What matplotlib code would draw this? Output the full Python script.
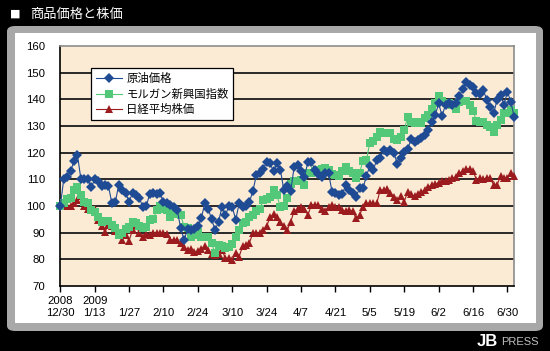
import matplotlib
matplotlib.use("Agg")
import matplotlib.pyplot as plt
from matplotlib.patches import FancyBboxPatch, Rectangle
from matplotlib.lines import Line2D

plt.rcParams['font.family'] = ['Noto Sans CJK JP', 'DejaVu Sans']

title = "商品価格と株価"
series_names = ["原油価格", "モルガン新興国指数", "日経平均株価"]

oil = [100, 110, 111, 113, 117, 119, 110, 110, 110, 107, 110, 109.5, 107.5, 108, 107.5, 101,
       101.5, 108, 106, 105, 101.5, 105, 104, 103, 99.5, 100, 104.5, 105, 104.5, 104.8, 101.5,
       101, 100.5, 99.5, 98.5, 91.6, 87.3, 91.3, 91, 91.5, 92.5, 95.4, 101, 99, 95, 91, 94,
       99.7, 96.5, 100, 99.7, 94.8, 101, 99.5, 100, 101.6, 105.6, 111.6, 112.5, 114, 116.6,
       116, 113, 116, 113.5, 106, 107.5, 105.6, 114.8, 115.5, 113.2, 111, 116.6, 116.6, 113.5,
       112, 111, 112.5, 112.3, 105.4, 104.8, 104.1, 104.5, 107.9, 106, 104.8, 103.5, 106.6,
       106.6, 111.3, 115, 113.5, 117.3, 118, 121, 120.4, 121, 120, 115.6, 118, 120.4, 121.3,
       125, 124, 124.8, 125.5, 126.6, 128.5, 131.6, 134, 138.5, 133.8, 138, 138.5, 138, 138.5,
       141.3, 143.8, 146.6, 145.5, 144.5, 142.3, 142, 143.5, 139.8, 137, 134.8, 139.8, 141.5,
       138, 142.8, 139, 133.2]

emerging = [100, 101, 102.5, 103, 106, 107.2, 104, 101.6, 101, 98.5, 97.9, 96, 94.1, 94.5,
            94.3, 93, 91.6, 89.1, 90, 91.3, 92, 94.1, 93.5, 92.5, 91.6, 92, 94.8, 95, 98.5,
            100.1, 99, 98.5, 96, 98.2, 97, 96.6, 92.2, 91.7, 88.5, 89, 90.4, 88.5, 88.5, 88.5,
            86, 82.2, 85.3, 85, 84.2, 84.5, 85.8, 88.5, 91, 93.5, 94, 96, 96.5, 98.2, 99, 102.2,
            102.5, 103.2, 106, 104, 99.5, 99.9, 102.9, 108.3, 109.2, 109.5, 109.8, 107.9, 112.3,
            112.5, 113, 113.5, 114, 114.4, 113.5, 112, 111.6, 111.2, 113.2, 114.6, 113, 112.3,
            110.4, 112.3, 117, 117.2, 123.8, 124.5, 126, 127.9, 127.5, 127.5, 127.3, 125, 124.8,
            126, 128.5, 133.5, 131.5, 131.2, 131.5, 131, 132.9, 134, 136.3, 138.5, 141.3, 139.5,
            138.5, 138.7, 138, 136.3, 139.1, 139.3, 139.5, 138, 135.6, 132, 131.5, 131.5, 130.5,
            129.8, 127.9, 130.5, 132.3, 135, 135, 136, 135]

nikkei = [100, 100, 100, 100, 101, 102.2, 103.8, 100, 99, 99.5, 99, 94.8, 92.5, 90.4, 92.9,
          92.5, 90.8, 89.5, 87.3, 89, 87, 91, 92.9, 89.8, 88.5, 89.5, 89.2, 89.8, 89.8, 89.8,
          89.8, 89.5, 87.3, 87.3, 87.3, 86, 84.8, 83.5, 84, 82.9, 83, 84, 85, 83.5, 82, 81.6,
          82, 83.5, 80.4, 80.5, 79.8, 82.3, 81, 85, 85.5, 86.3, 89.8, 89.8, 89.8, 91, 92.5,
          95.8, 97, 95.8, 94, 92.5, 91, 94.1, 98.2, 98.7, 99.5, 99, 96.6, 100.4, 100.5, 100.4,
          99, 98.2, 99.5, 100.4, 99.7, 99.7, 98.5, 98, 98.5, 98, 95.4, 96.6, 99.5, 101, 101,
          101, 101, 106, 106, 106.2, 104.9, 103.5, 102.2, 103.6, 101.6, 105.4, 104.4, 103.6,
          104.5, 105.4, 106, 107.2, 107.8, 108.2, 108.7, 109.5, 109.5, 109.8, 110.5, 110.8,
          112.3, 113, 113.8, 114, 113.2, 109.8, 110.4, 110, 110.5, 110.4, 107.9, 107.9, 111.3,
          110.5, 110.4, 112.3, 111.3]

tick_labels = ["2008\n12/30", "2009\n1/13", "\n1/27", "\n2/10", "\n2/24", "\n3/10", "\n3/24",
               "\n4/7", "\n4/21", "\n5/5", "\n5/19", "\n6/2", "\n6/16", "\n6/30"]
y_ticks = [70, 80, 90, 100, 110, 120, 130, 140, 150, 160]

W, H = 550, 351
fig = plt.figure(figsize=(W / 100, H / 100), dpi=100, facecolor="black")


def fx(x):
    return x / W


def fy(y):
    return 1 - y / H


# gray rounded panel
fig.patches.append(FancyBboxPatch((fx(7), fy(331)), fx(543) - fx(7), fy(26) - fy(331),
                                  boxstyle="round,pad=0,rounding_size=0.015",
                                  transform=fig.transFigure, facecolor="#A8A8A8",
                                  edgecolor="none", zorder=0))
fig.patches.append(Rectangle((fx(15), fy(323)), fx(536) - fx(15), fy(33) - fy(323),
                             transform=fig.transFigure, facecolor="white",
                             edgecolor="none", zorder=1))

# title
fig.text(fx(10), fy(14), "■", color="white", fontsize=8, va="center", ha="left",
         family=["DejaVu Sans"])
fig.text(fx(30), fy(14.5), title, color="white", fontsize=9.5, va="center", ha="left")

# logo
fig.text(fx(477), fy(341), "JB", color="white", fontsize=12, fontweight="bold",
         va="center", ha="left", family=["Liberation Sans"])
fig.text(fx(501), fy(342), "PRESS", color="#BFBFBF", fontsize=8,
         va="center", ha="left", family=["Liberation Sans"])

ax = fig.add_axes([fx(60.3), fy(286), fx(514.3) - fx(60.3), fy(46) - fy(286)])
ax.set_facecolor("#FCEBD4")
ax.set_zorder(2)

x = list(range(len(oil)))
ax.set_xlim(0, len(oil) - 1)
ax.set_ylim(70, 160)

for yv in y_ticks[1:-1]:
    ax.axhline(yv, color="#1a1a1a", lw=1.3, zorder=1)

ms_d, ms_s, ms_t = 5.0, 5.6, 6.0
ax.plot(x, nikkei, color="#9B1B1E", lw=0.8, marker="^", markersize=ms_t,
        markeredgewidth=0, zorder=3, clip_on=False, label=series_names[2])
ax.plot(x, emerging, color="#52C878", lw=0.8, marker="s", markersize=ms_s,
        markeredgewidth=0, zorder=4, clip_on=False, label=series_names[1])
ax.plot(x, oil, color="#1F4A94", lw=0.8, marker="D", markersize=ms_d,
        markeredgewidth=0, zorder=5, clip_on=False, label=series_names[0])

ax.set_yticks(y_ticks)
ax.set_yticklabels([str(v) for v in y_ticks], family=["Liberation Sans"], fontsize=8.2)
ax.tick_params(axis="y", length=0, pad=11)
ax.set_xticks(list(range(0, 131, 10)))
ax.set_xticklabels(tick_labels, family=["Liberation Sans"], fontsize=8.2, linespacing=1.25)
ax.tick_params(axis="x", length=4, width=1, direction="out", pad=3, color="black")

for s in ["left", "bottom"]:
    ax.spines[s].set_color("black")
    ax.spines[s].set_linewidth(1.2)
for s in ["top", "right"]:
    ax.spines[s].set_color("#8C8C8C")
    ax.spines[s].set_linewidth(1.2)

handles = [
    Line2D([], [], color="#1F4A94", lw=0.8, marker="D", markersize=ms_d, markeredgewidth=0),
    Line2D([], [], color="#52C878", lw=0.8, marker="s", markersize=ms_s, markeredgewidth=0),
    Line2D([], [], color="#9B1B1E", lw=0.8, marker="^", markersize=ms_t, markeredgewidth=0),
]
leg = ax.legend(handles, series_names, loc="upper left",
                bbox_to_anchor=((91 - 60.3) / 454, (286 - 68) / 240),
                borderaxespad=0, fancybox=False, framealpha=1, edgecolor="black",
                fontsize=8.2, handlelength=2.3, handletextpad=0.4, labelspacing=0.42,
                borderpad=0.4)
leg.get_frame().set_linewidth(0.9)
leg.set_zorder(10)

fig.savefig("out.png", dpi=100, facecolor="black")
